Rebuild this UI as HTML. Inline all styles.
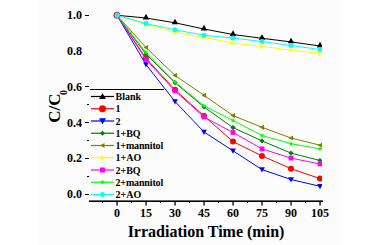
<!DOCTYPE html>
<html><head><meta charset="utf-8">
<style>
html,body{margin:0;padding:0;background:#fff;}
body{width:380px;height:245px;overflow:hidden;}
svg{display:block;}
text{font-family:"Liberation Serif",serif;font-weight:bold;fill:#000;}
</style></head><body>
<svg width="380" height="245" viewBox="0 0 380 245">
<rect width="380" height="245" fill="#fff"/>
<rect x="38" y="0" width="303" height="245" fill="#fcfcfc"/>

<text x="82" y="19" font-size="12" text-anchor="end">1.0</text>
<text x="82" y="54.5" font-size="12" text-anchor="end">0.8</text>
<text x="82" y="90.5" font-size="12" text-anchor="end">0.6</text>
<text x="82" y="126.5" font-size="12" text-anchor="end">0.4</text>
<text x="82" y="162" font-size="12" text-anchor="end">0.2</text>
<text x="82" y="198" font-size="12" text-anchor="end">0.0</text>
<rect x="85" y="15" width="4" height="1" fill="#000"/>
<rect x="85" y="86" width="4" height="1" fill="#000"/>
<rect x="85" y="122" width="4" height="1" fill="#000"/>
<rect x="85" y="158" width="4" height="1" fill="#000"/>
<rect x="85" y="194" width="4" height="1" fill="#000"/>
<rect x="87" y="104" width="2" height="1" fill="#000"/>
<rect x="87" y="140" width="2" height="1" fill="#000"/>
<rect x="87" y="176" width="2" height="1" fill="#000"/>
<text transform="translate(60,122.7) rotate(-90)" font-size="17">C/C<tspan font-size="10" dx="-1.5" dy="6.5">0</tspan></text>
<rect x="89" y="200.4" width="234" height="1.6" fill="#000"/>
<rect x="116.4" y="201" width="1.3" height="4.5" fill="#000"/>
<text x="117.1" y="217" font-size="12" text-anchor="middle">0</text>
<rect x="145.4" y="201" width="1.3" height="4.5" fill="#000"/>
<text x="146.1" y="217" font-size="12" text-anchor="middle">15</text>
<rect x="174.4" y="201" width="1.3" height="4.5" fill="#000"/>
<text x="175.1" y="217" font-size="12" text-anchor="middle">30</text>
<rect x="203.4" y="201" width="1.3" height="4.5" fill="#000"/>
<text x="204.1" y="217" font-size="12" text-anchor="middle">45</text>
<rect x="232.4" y="201" width="1.3" height="4.5" fill="#000"/>
<text x="233.1" y="217" font-size="12" text-anchor="middle">60</text>
<rect x="261.4" y="201" width="1.3" height="4.5" fill="#000"/>
<text x="262.1" y="217" font-size="12" text-anchor="middle">75</text>
<rect x="290.4" y="201" width="1.3" height="4.5" fill="#000"/>
<text x="291.1" y="217" font-size="12" text-anchor="middle">90</text>
<rect x="319.4" y="201" width="1.3" height="4.5" fill="#000"/>
<text x="320.1" y="217" font-size="12" text-anchor="middle">105</text>
<rect x="102.0" y="201" width="1" height="2" fill="#000"/>
<rect x="131.0" y="201" width="1" height="2" fill="#000"/>
<rect x="160.0" y="201" width="1" height="2" fill="#000"/>
<rect x="189.0" y="201" width="1" height="2" fill="#000"/>
<rect x="218.0" y="201" width="1" height="2" fill="#000"/>
<rect x="247.0" y="201" width="1" height="2" fill="#000"/>
<rect x="276.0" y="201" width="1" height="2" fill="#000"/>
<rect x="305.0" y="201" width="1" height="2" fill="#000"/>
<text x="206" y="237" font-size="16" text-anchor="middle">Irradiation Time (min)</text>
<rect x="90" y="89" width="74" height="1" fill="#000"/>
<rect x="91" y="95.9" width="23" height="1.2" fill="#000000"/>
<polygon points="102.5,93.35 106.0,99.02 99.0,99.02" fill="#000000"/>
<text x="115.5" y="100.0" font-size="10">Blank</text>
<rect x="91" y="108.15" width="23" height="1.2" fill="#ff0000"/>
<circle cx="102.5" cy="108.75" r="3.5" fill="#ff0000"/>
<text x="115.5" y="112.25" font-size="10">1</text>
<rect x="91" y="120.4" width="23" height="1.2" fill="#0000ff"/>
<polygon points="102.5,124.5 106.0,118.2 99.0,118.2" fill="#0000ff"/>
<text x="115.5" y="124.5" font-size="10">2</text>
<rect x="91" y="132.65" width="23" height="1.2" fill="#008000"/>
<polygon points="102.5,130.75 105.0,133.25 102.5,135.75 100.0,133.25" fill="#008000"/>
<text x="115.5" y="136.75" font-size="10">1+BQ</text>
<rect x="91" y="144.9" width="23" height="1.2" fill="#808000"/>
<polygon points="100.0,145.5 104.5,143.0 104.5,148.0" fill="#808000"/>
<text x="115.5" y="149.0" font-size="10" letter-spacing="-0.15">1+mannitol</text>
<rect x="91" y="157.15" width="23" height="1.2" fill="#ffff00"/>
<polygon points="105.0,157.75 100.5,155.25 100.5,160.25" fill="#ffff00"/>
<text x="115.5" y="161.25" font-size="10">1+AO</text>
<rect x="91" y="169.4" width="23" height="1.2" fill="#ff00ff"/>
<rect x="100.0" y="167.5" width="5" height="5" fill="#ff00ff"/>
<text x="115.5" y="173.5" font-size="10">2+BQ</text>
<rect x="91" y="181.65" width="23" height="1.2" fill="#00ff00"/>
<polygon points="102.50,179.75 103.16,181.34 104.88,181.48 103.57,182.60 103.97,184.27 102.50,183.38 101.03,184.27 101.43,182.60 100.12,181.48 101.84,181.34" fill="#00ff00"/>
<text x="115.5" y="185.75" font-size="10" letter-spacing="-0.15">2+mannitol</text>
<rect x="91" y="193.9" width="23" height="1.2" fill="#00ffff"/>
<circle cx="102.5" cy="194.5" r="2.5" fill="#00ffff"/>
<text x="115.5" y="198.0" font-size="10">2+AO</text>
<defs><clipPath id="c"><rect x="0" y="0" width="322" height="245"/></clipPath></defs>
<g clip-path="url(#c)">
<polyline points="117,15.3 146,18.0 175,22.8 204,29.0 233,34.5 262,38.3 291,41.9 320,46.0" fill="none" stroke="#000000" stroke-width="1"/>
<polygon points="117,11.14 120.25,16.73 113.75,16.73" fill="#000000"/>
<polygon points="146,13.84 149.25,19.43 142.75,19.43" fill="#000000"/>
<polygon points="175,18.64 178.25,24.23 171.75,24.23" fill="#000000"/>
<polygon points="204,24.84 207.25,30.43 200.75,30.43" fill="#000000"/>
<polygon points="233,30.34 236.25,35.93 229.75,35.93" fill="#000000"/>
<polygon points="262,34.14 265.25,39.73 258.75,39.73" fill="#000000"/>
<polygon points="291,37.739999999999995 294.25,43.33 287.75,43.33" fill="#000000"/>
<polygon points="320,41.84 323.25,47.43 316.75,47.43" fill="#000000"/>
<polyline points="117,15.3 146,58.3 175,89.8 204,116.0 233,141.6 262,155.9 291,168.7 320,178.6" fill="none" stroke="#ff0000" stroke-width="1"/>
<circle cx="117" cy="15.3" r="3.0" fill="#ff0000"/>
<circle cx="146" cy="58.3" r="3.0" fill="#ff0000"/>
<circle cx="175" cy="89.8" r="3.0" fill="#ff0000"/>
<circle cx="204" cy="116.0" r="3.0" fill="#ff0000"/>
<circle cx="233" cy="141.6" r="3.0" fill="#ff0000"/>
<circle cx="262" cy="155.9" r="3.0" fill="#ff0000"/>
<circle cx="291" cy="168.7" r="3.0" fill="#ff0000"/>
<circle cx="320" cy="178.6" r="3.0" fill="#ff0000"/>
<polyline points="117,15.3 146,64.6 175,101.5 204,132.0 233,150.8 262,169.6 291,179.5 320,186.3" fill="none" stroke="#0000ff" stroke-width="1"/>
<polygon points="117,18.2 119.9,12.98 114.1,12.98" fill="#0000ff"/>
<polygon points="146,67.5 148.9,62.279999999999994 143.1,62.279999999999994" fill="#0000ff"/>
<polygon points="175,104.4 177.9,99.18 172.1,99.18" fill="#0000ff"/>
<polygon points="204,134.9 206.9,129.68 201.1,129.68" fill="#0000ff"/>
<polygon points="233,153.70000000000002 235.9,148.48000000000002 230.1,148.48000000000002" fill="#0000ff"/>
<polygon points="262,172.5 264.9,167.28 259.1,167.28" fill="#0000ff"/>
<polygon points="291,182.4 293.9,177.18 288.1,177.18" fill="#0000ff"/>
<polygon points="320,189.20000000000002 322.9,183.98000000000002 317.1,183.98000000000002" fill="#0000ff"/>
<polyline points="117,15.3 146,54.2 175,82.7 204,107.0 233,127.6 262,140.9 291,153.1 320,160.5" fill="none" stroke="#008000" stroke-width="1"/>
<polygon points="117,12.700000000000001 119.6,15.3 117,17.900000000000002 114.4,15.3" fill="#008000"/>
<polygon points="146,51.6 148.6,54.2 146,56.800000000000004 143.4,54.2" fill="#008000"/>
<polygon points="175,80.10000000000001 177.6,82.7 175,85.3 172.4,82.7" fill="#008000"/>
<polygon points="204,104.4 206.6,107.0 204,109.6 201.4,107.0" fill="#008000"/>
<polygon points="233,125.0 235.6,127.6 233,130.2 230.4,127.6" fill="#008000"/>
<polygon points="262,138.3 264.6,140.9 262,143.5 259.4,140.9" fill="#008000"/>
<polygon points="291,150.5 293.6,153.1 291,155.7 288.4,153.1" fill="#008000"/>
<polygon points="320,157.9 322.6,160.5 320,163.1 317.4,160.5" fill="#008000"/>
<polyline points="117,15.3 146,47.5 175,75.4 204,95.3 233,115.6 262,127.3 291,138.0 320,145.2" fill="none" stroke="#808000" stroke-width="1"/>
<polygon points="114.4,15.3 119.08,12.700000000000001 119.08,17.900000000000002" fill="#808000"/>
<polygon points="143.4,47.5 148.08,44.9 148.08,50.1" fill="#808000"/>
<polygon points="172.4,75.4 177.08,72.80000000000001 177.08,78.0" fill="#808000"/>
<polygon points="201.4,95.3 206.08,92.7 206.08,97.89999999999999" fill="#808000"/>
<polygon points="230.4,115.6 235.08,113.0 235.08,118.19999999999999" fill="#808000"/>
<polygon points="259.4,127.3 264.08,124.7 264.08,129.9" fill="#808000"/>
<polygon points="288.4,138.0 293.08,135.4 293.08,140.6" fill="#808000"/>
<polygon points="317.4,145.2 322.08,142.6 322.08,147.79999999999998" fill="#808000"/>
<polyline points="117,15.3 146,24.5 175,32.5 204,37.5 233,43.0 262,46.5 291,50.0 320,53.5" fill="none" stroke="#ffff00" stroke-width="1"/>
<polygon points="119.6,15.3 114.92,12.700000000000001 114.92,17.900000000000002" fill="#ffff00"/>
<polygon points="148.6,24.5 143.92,21.9 143.92,27.1" fill="#ffff00"/>
<polygon points="177.6,32.5 172.92,29.9 172.92,35.1" fill="#ffff00"/>
<polygon points="206.6,37.5 201.92,34.9 201.92,40.1" fill="#ffff00"/>
<polygon points="235.6,43.0 230.92,40.4 230.92,45.6" fill="#ffff00"/>
<polygon points="264.6,46.5 259.92,43.9 259.92,49.1" fill="#ffff00"/>
<polygon points="293.6,50.0 288.92,47.4 288.92,52.6" fill="#ffff00"/>
<polygon points="322.6,53.5 317.92,50.9 317.92,56.1" fill="#ffff00"/>
<polyline points="117,15.3 146,59.5 175,91.0 204,117.0 233,132.5 262,148.9 291,158.1 320,164.0" fill="none" stroke="#ff00ff" stroke-width="1"/>
<rect x="114.6" y="12.9" width="4.8" height="4.8" fill="#ff00ff"/>
<rect x="143.6" y="57.1" width="4.8" height="4.8" fill="#ff00ff"/>
<rect x="172.6" y="88.6" width="4.8" height="4.8" fill="#ff00ff"/>
<rect x="201.6" y="114.6" width="4.8" height="4.8" fill="#ff00ff"/>
<rect x="230.6" y="130.1" width="4.8" height="4.8" fill="#ff00ff"/>
<rect x="259.6" y="146.5" width="4.8" height="4.8" fill="#ff00ff"/>
<rect x="288.6" y="155.7" width="4.8" height="4.8" fill="#ff00ff"/>
<rect x="317.6" y="161.6" width="4.8" height="4.8" fill="#ff00ff"/>
<polyline points="117,15.3 146,52.4 175,82.0 204,105.8 233,120.5 262,135.5 291,143.7 320,148.9" fill="none" stroke="#00ff00" stroke-width="1"/>
<polygon points="117.00,12.70 117.69,14.35 119.47,14.50 118.11,15.66 118.53,17.40 117.00,16.47 115.47,17.40 115.89,15.66 114.53,14.50 116.31,14.35" fill="#00ff00"/>
<polygon points="146.00,49.80 146.69,51.45 148.47,51.60 147.11,52.76 147.53,54.50 146.00,53.57 144.47,54.50 144.89,52.76 143.53,51.60 145.31,51.45" fill="#00ff00"/>
<polygon points="175.00,79.40 175.69,81.05 177.47,81.20 176.11,82.36 176.53,84.10 175.00,83.17 173.47,84.10 173.89,82.36 172.53,81.20 174.31,81.05" fill="#00ff00"/>
<polygon points="204.00,103.20 204.69,104.85 206.47,105.00 205.11,106.16 205.53,107.90 204.00,106.97 202.47,107.90 202.89,106.16 201.53,105.00 203.31,104.85" fill="#00ff00"/>
<polygon points="233.00,117.90 233.69,119.55 235.47,119.70 234.11,120.86 234.53,122.60 233.00,121.67 231.47,122.60 231.89,120.86 230.53,119.70 232.31,119.55" fill="#00ff00"/>
<polygon points="262.00,132.90 262.69,134.55 264.47,134.70 263.11,135.86 263.53,137.60 262.00,136.67 260.47,137.60 260.89,135.86 259.53,134.70 261.31,134.55" fill="#00ff00"/>
<polygon points="291.00,141.10 291.69,142.75 293.47,142.90 292.11,144.06 292.53,145.80 291.00,144.87 289.47,145.80 289.89,144.06 288.53,142.90 290.31,142.75" fill="#00ff00"/>
<polygon points="320.00,146.30 320.69,147.95 322.47,148.10 321.11,149.26 321.53,151.00 320.00,150.07 318.47,151.00 318.89,149.26 317.53,148.10 319.31,147.95" fill="#00ff00"/>
<polyline points="117,15.3 146,23.5 175,29.8 204,35.2 233,38.0 262,41.6 291,45.5 320,49.5" fill="none" stroke="#00ffff" stroke-width="1"/>
<circle cx="117" cy="15.3" r="2.5" fill="#00ffff"/>
<circle cx="146" cy="23.5" r="2.5" fill="#00ffff"/>
<circle cx="175" cy="29.8" r="2.5" fill="#00ffff"/>
<circle cx="204" cy="35.2" r="2.5" fill="#00ffff"/>
<circle cx="233" cy="38.0" r="2.5" fill="#00ffff"/>
<circle cx="262" cy="41.6" r="2.5" fill="#00ffff"/>
<circle cx="291" cy="45.5" r="2.5" fill="#00ffff"/>
<circle cx="320" cy="49.5" r="2.5" fill="#00ffff"/>
<circle cx="116.8" cy="15.3" r="3.3" fill="#ff0000"/>
<circle cx="117.2" cy="15.3" r="2.7" fill="#00ffff"/>
</g>
</svg></body></html>
